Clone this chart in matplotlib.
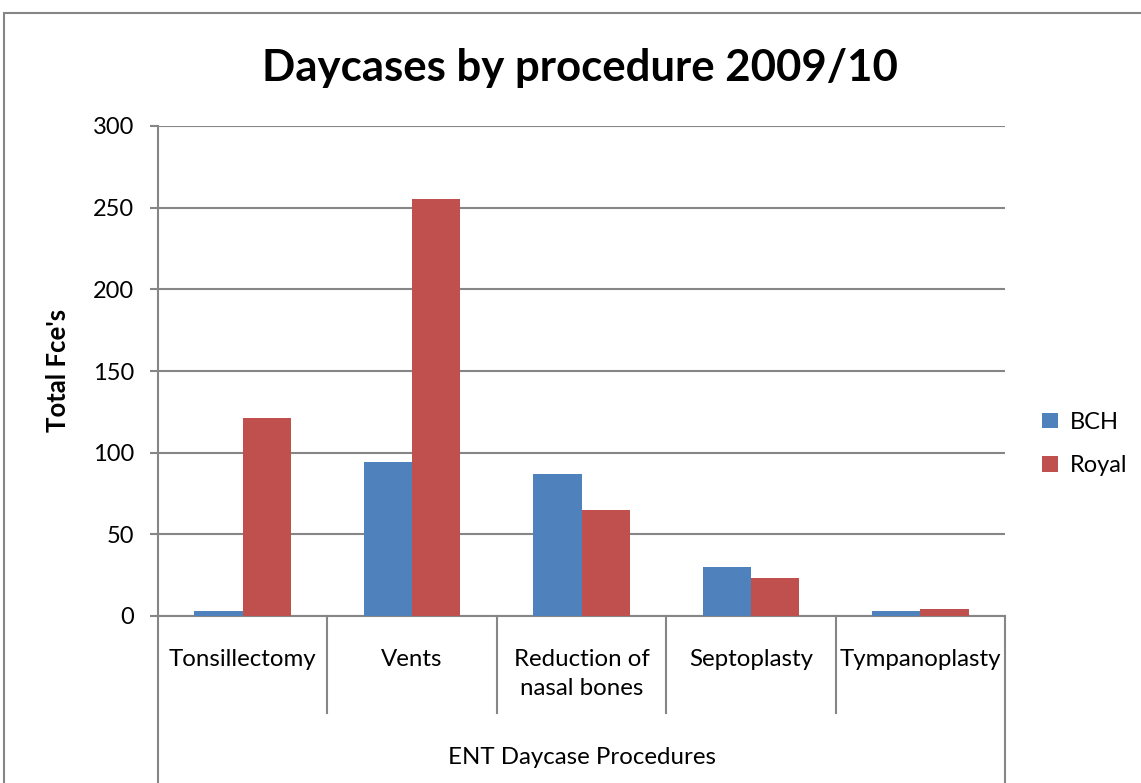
import numpy as np
import matplotlib.pyplot as plt
from matplotlib.patches import Rectangle

categories = ["Tonsillectomy", "Vents", "Reduction of\nnasal bones", "Septoplasty", "Tympanoplasty"]
bch = [3, 94, 87, 30, 3]
royal = [121, 255, 65, 23, 4]
series_names = ["BCH", "Royal"]
yticks = [0, 50, 100, 150, 200, 250, 300]

FONT = "Lato"
GRID = "#868686"
W, H = 1141, 783

fig = plt.figure(figsize=(W / 100, H / 100), dpi=100)
# outer chart border (cropped at right/bottom in the reference)
fig.patches.append(Rectangle((4 / W, -0.1), 1.2, 1 - 13 / H + 0.1, transform=fig.transFigure,
                             fill=False, edgecolor=GRID, linewidth=1.5))

ax = fig.add_axes([158 / W, 1 - 616 / H, (1005 - 158) / W, (616 - 126) / H])

x = np.arange(len(categories))
bw = 0.285
ax.bar(x - bw / 2, bch, bw, color="#4F81BD", label=series_names[0], zorder=3)
ax.bar(x + bw / 2, royal, bw, color="#C0504D", label=series_names[1], zorder=3)

ax.set_xlim(-0.5, len(categories) - 0.5)
ax.set_ylim(0, 300)
ax.set_yticks(yticks)
ax.yaxis.grid(True, color=GRID, linewidth=1.5)
ax.set_axisbelow(True)
for s in ["top", "right"]:
    ax.spines[s].set_visible(False)
for s in ["left", "bottom"]:
    ax.spines[s].set_color(GRID)
    ax.spines[s].set_linewidth(1.5)
ax.tick_params(axis="y", length=6, width=1.5, color=GRID, labelsize=17, pad=11)
ax.set_xticks([])
for lab in ax.get_yticklabels():
    lab.set_fontfamily(FONT)

# multi-level category axis
px = 1 / 490
trans = ax.get_xaxis_transform()
for b in np.arange(0.5, len(categories) - 1, 1.0):
    ax.plot([b, b], [0, -97 * px], color=GRID, lw=1.5, transform=trans, clip_on=False)
for b in [-0.5, len(categories) - 0.5]:
    ax.plot([b, b], [0, -200 * px], color=GRID, lw=1.5, transform=trans, clip_on=False)
for i, c in enumerate(categories):
    ax.text(i, -33 * px, c, transform=trans, ha="center", va="top", fontsize=17.3,
            family=FONT, linespacing=1.45)
ax.text(2, -141 * px, "ENT Daycase Procedures", transform=trans, ha="center", va="center",
        fontsize=17.3, family=FONT)

fig.text(58 / W, 1 - 370 / H, "Total Fce's", rotation=90, ha="center", va="center",
         fontsize=18.5, fontweight="bold", family=FONT)
fig.text(580 / W, 1 - 68 / H, "Daycases by procedure 2009/10", ha="center", va="center",
         fontsize=31.5, fontweight="bold", family=FONT)

leg = ax.legend(loc="center left", bbox_to_anchor=(1.033, (616 - 444) / 490), frameon=False,
                prop={"family": FONT, "size": 17}, handlelength=0.65, handleheight=0.65,
                labelspacing=0.95, handletextpad=0.5, borderaxespad=0)

fig.savefig("out.png", dpi=100)
